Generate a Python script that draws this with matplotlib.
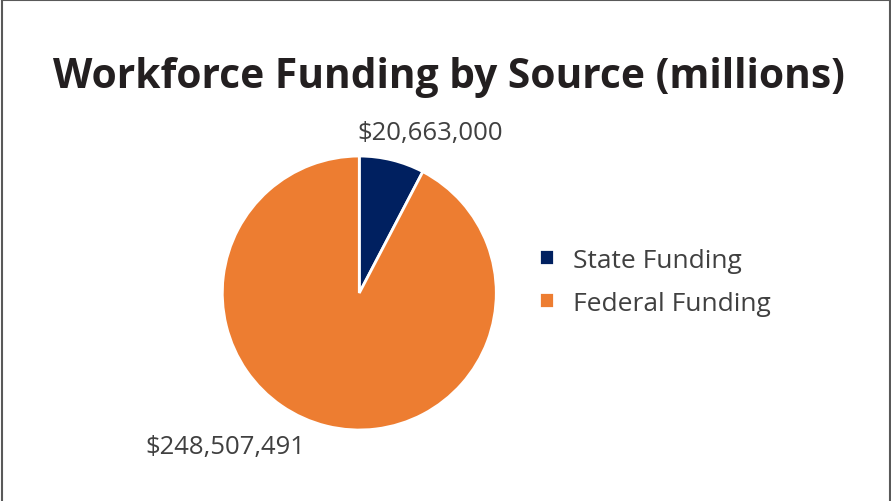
import matplotlib.pyplot as plt
from matplotlib.lines import Line2D

sources = ['State Funding', 'Federal Funding']
amounts = [20663000, 248507491]
colors = ['#002060', '#ED7D31']

plt.rcParams['font.family'] = ['Open Sans', 'DejaVu Sans']

fig = plt.figure(figsize=(8.91, 5.02), dpi=100)

# thin gray frame around the chart area
for xs, ys in [([0.002, 0.002], [0, 0.998]), ([0.002, 0.999], [0.998, 0.998]), ([0.999, 0.999], [0, 0.998])]:
    fig.add_artist(Line2D(xs, ys, transform=fig.transFigure, color='#595959', lw=1.5))

fig.text(0.504, 0.845, 'Workforce Funding by Source (millions)', ha='center', va='center',
         fontsize=29.3, fontweight='bold', color='#231f20')

ax = fig.add_axes([0.2495, 0.1414, 0.3075, 0.5458])
wedges, _ = ax.pie(amounts, colors=colors, startangle=90, counterclock=False,
                   wedgeprops=dict(edgecolor='white', linewidth=2))
ax.set_xlim(-1, 1)
ax.set_ylim(-1, 1)
ax.set_aspect('equal')

label_pos = [(0.52, 1.17), (-0.98, -1.12)]
for amt, (x, y) in zip(amounts, label_pos):
    ax.text(x, y, '${:,}'.format(amt), ha='center', va='center', fontsize=18.5, color='#404040')

fig.legend(wedges, sources, loc='center left', bbox_to_anchor=(0.605, 0.437), frameon=False,
           fontsize=19, labelcolor='#404040', handlelength=0.55, handleheight=0.55,
           handletextpad=0.75, labelspacing=0.68, borderpad=0, borderaxespad=0)

fig.savefig('out.png', dpi=100)
